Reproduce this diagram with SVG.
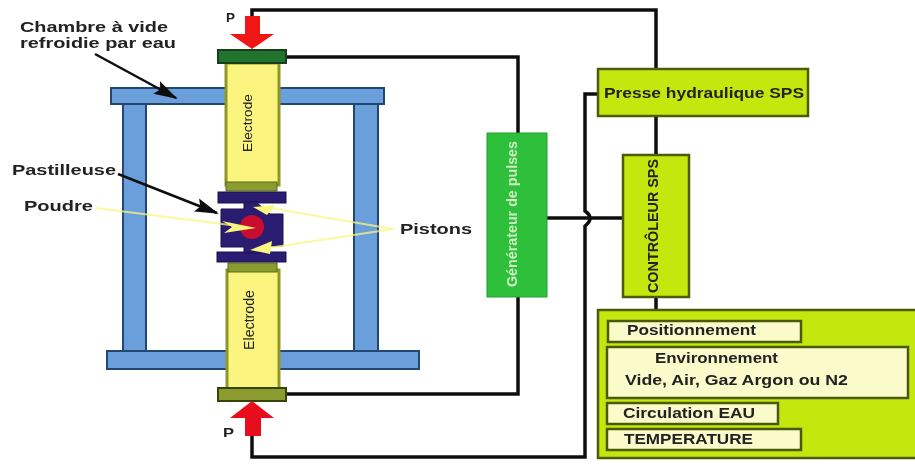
<svg xmlns="http://www.w3.org/2000/svg" width="915" height="466" viewBox="0 0 915 466">
<style>
text{font-family:"Liberation Sans",Arial,sans-serif;font-weight:bold;fill:#222}
.blue{fill:#6a9fdc;stroke:#24466f;stroke-width:2}
.elec{fill:#fbf57f;stroke:#8f962c;stroke-width:3}
.pad{fill:#8a9c2f;stroke:#38420c;stroke-width:2}
.navy{fill:#2b1a70;stroke:#1c1050;stroke-width:1}
.lime{fill:#c4e80a;stroke:#4e5c06;stroke-width:2.5}
.item{fill:#fbfacb;stroke:#4a5a06;stroke-width:2.5}
.wire{fill:none;stroke:#111;stroke-width:3.5}
.yl{stroke:#fbf57f;stroke-width:2;fill:none;opacity:.75}
</style>
<defs>
<marker id="k" markerUnits="userSpaceOnUse" markerWidth="24" markerHeight="16" refX="22" refY="8" orient="auto"><path d="M0 1L24 8L0 15L4 8Z" fill="#111"/></marker>
<filter id="soft" x="0" y="0" width="100%" height="100%" filterUnits="objectBoundingBox"><feGaussianBlur stdDeviation="0.6"/></filter>
</defs>
<rect width="915" height="466" fill="#fff"/>
<g filter="url(#soft)">
<rect width="915" height="466" fill="#fff"/>
<g id="chambre">
<rect class="blue" x="123" y="104" width="23" height="248"/>
<rect class="blue" x="354" y="104" width="24" height="248"/>
<rect class="blue" x="111" y="88" width="273" height="16"/>
<rect class="blue" x="107" y="351" width="312" height="18"/>
</g>
<g id="connecteurs">
<path class="wire" d="M252 22V10H656V70"/>
<path class="wire" d="M287 57H518V133"/>
<path class="wire" d="M287 394H518V297"/>
<path class="wire" d="M252 430V457H585V226Q595 218 585 211V94H598"/>
<path class="wire" d="M656 117V155"/>
<path class="wire" d="M656 297V309"/>
<path class="wire" d="M546 218H622" stroke-width="3"/>
</g>
<g id="electrode-haut">
<rect class="elec" x="226" y="63" width="53" height="122"/>
<text transform="translate(248 123) rotate(-90)" y="4" text-anchor="middle" textLength="58" lengthAdjust="spacingAndGlyphs" style="font-weight:normal;font-size:13px">Electrode</text>
<rect x="226" y="182" width="51" height="9" fill="#8a9c2f" stroke="#5a6a14"/>
</g>
<g id="electrode-bas">
<rect class="elec" x="227" y="270" width="52" height="120"/>
<text transform="translate(249 320) rotate(-90)" y="5" text-anchor="middle" textLength="60" lengthAdjust="spacingAndGlyphs" style="font-weight:normal;font-size:14px">Electrode</text>
<rect x="228" y="263" width="49" height="9" fill="#8a9c2f" stroke="#5a6a14"/>
</g>
<g id="plaque-haut"><rect x="218" y="50" width="68" height="13" fill="#23732d" stroke="#12401a" stroke-width="2"/></g>
<g id="plaque-bas"><rect class="pad" x="218" y="388" width="68" height="13"/></g>
<g id="pastilleuse">
<rect class="navy" x="218" y="192" width="68" height="11"/>
<rect class="navy" x="217" y="252" width="69" height="10"/>
<path class="navy" d="M244 202H256L270 214H283V246H270L258 253H244V247H221V209H244Z"/>
<circle cx="252" cy="227" r="12" fill="#c8102e"/>
</g>
<g id="fleche-p-haut">
<path d="M245 16H260V34H274L252 49L230 34H245Z" fill="#f01212"/>
<text x="226" y="22" font-size="13" fill="#444" textLength="9" lengthAdjust="spacingAndGlyphs">P</text>
</g>
<g id="fleche-p-bas">
<path d="M252 401L274 418H261V436H245V418H230Z" fill="#e8101a"/>
<text x="223" y="437" font-size="13" fill="#444" textLength="11" lengthAdjust="spacingAndGlyphs">P</text>
</g>
<g id="generateur">
<rect x="487" y="133" width="60" height="164" fill="#2dbf3b" stroke="#25a032"/>
<text transform="translate(512 214) rotate(-90)" y="5" text-anchor="middle" font-size="15" textLength="146" lengthAdjust="spacingAndGlyphs" style="fill:#cdeec0">Générateur de pulses</text>
</g>
<g id="presse">
<rect class="lime" x="598" y="69" width="210" height="47"/>
<text x="604" y="98" font-size="14" textLength="200" lengthAdjust="spacingAndGlyphs">Presse hydraulique SPS</text>
</g>
<g id="controleur">
<rect class="lime" x="623" y="155" width="66" height="142"/>
<text transform="translate(653 226) rotate(-90)" y="5" text-anchor="middle" font-size="15" textLength="134" lengthAdjust="spacingAndGlyphs">CONTRÔLEUR SPS</text>
</g>
<g id="panneau">
<rect class="lime" x="598" y="310" width="320" height="148"/>
<rect class="item" x="608" y="321" width="193" height="21"/>
<text x="627" y="335" font-size="14" textLength="129" lengthAdjust="spacingAndGlyphs">Positionnement</text>
<rect class="item" x="607" y="347" width="301" height="51"/>
<text x="655" y="363" font-size="14" textLength="123" lengthAdjust="spacingAndGlyphs">Environnement</text>
<text x="625" y="385" font-size="14" textLength="223" lengthAdjust="spacingAndGlyphs">Vide, Air, Gaz Argon  ou N2</text>
<rect class="item" x="607" y="403" width="171" height="21"/>
<text x="623" y="418" font-size="14" textLength="132" lengthAdjust="spacingAndGlyphs">Circulation EAU</text>
<rect class="item" x="607" y="429" width="194" height="21"/>
<text x="624" y="444" font-size="14" textLength="129" lengthAdjust="spacingAndGlyphs">TEMPERATURE</text>
</g>
<g id="etiquettes">
<text x="20" y="32" font-size="15" textLength="148" lengthAdjust="spacingAndGlyphs">Chambre à vide</text>
<text x="20" y="48" font-size="15" textLength="156" lengthAdjust="spacingAndGlyphs">refroidie par eau</text>
<text x="12" y="175" font-size="15" textLength="104" lengthAdjust="spacingAndGlyphs">Pastilleuse</text>
<text x="24" y="211" font-size="15" textLength="69" lengthAdjust="spacingAndGlyphs">Poudre</text>
<text x="400" y="234" font-size="15" textLength="72" lengthAdjust="spacingAndGlyphs">Pistons</text>
</g>
<g id="fleches-legende">
<path d="M95 54L176 98" stroke="#111" stroke-width="2.5" fill="none" marker-end="url(#k)"/>
<path d="M118 174L217 213" stroke="#111" stroke-width="2.5" fill="none" marker-end="url(#k)"/>
<path d="M96 208L230 225" class="yl"/>
<path d="M393 229L270 208" class="yl"/>
<path d="M393 229L268 248" class="yl"/>
<path d="M253 207L275 205L267 215Z M250 250L272 241L270 254Z M222 221L256 228L224 233L232 227Z" fill="#fbf57f"/>
</g>
</g>
</svg>
